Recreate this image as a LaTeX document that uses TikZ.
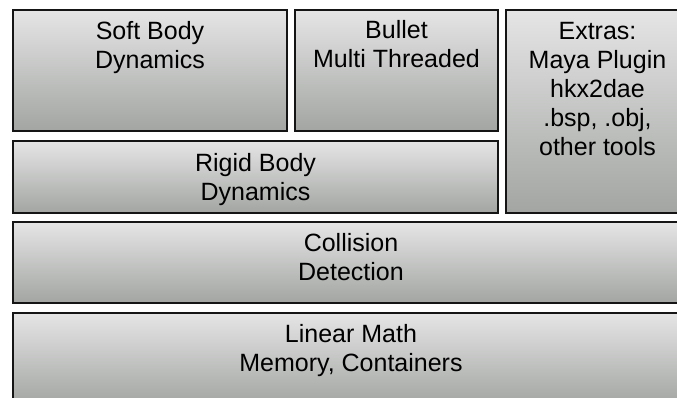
\documentclass[tikz,border=0pt]{standalone}
\usepackage{fontspec}
\setmainfont{Liberation Sans}
\definecolor{gtop}{HTML}{E5E5E5}
\definecolor{gmid}{HTML}{CACBCA}
\definecolor{gbot}{HTML}{A2A5A2}
\definecolor{edge}{HTML}{151515}
\begin{document}
\begin{tikzpicture}[x=1pt,y=-1pt,
  layer/.style={draw=edge, line width=2pt, rectangle, inner sep=0pt,
    top color=gtop, middle color=gmid, bottom color=gbot},
  lbl/.style={anchor=north, align=center, inner sep=0pt, text=black,
    font=\fontsize{25}{29}\selectfont}]
\useasboundingbox (0,0) rectangle (677,398);
\fill[white] (0,0) rectangle (677,398);
\clip (0,0) rectangle (677,398);
% boxes
\node[layer, minimum width=274pt, minimum height=121pt] (soft) at (150,70.5) {};
\node[layer, minimum width=203pt, minimum height=121pt] (bullet) at (396.5,70.5) {};
\node[layer, minimum width=183pt, minimum height=203pt] (extras) at (597.5,111.5) {};
\node[layer, minimum width=485pt, minimum height=72pt] (rigid) at (255.5,177) {};
\node[layer, minimum width=676pt, minimum height=81pt] (collision) at (351,262.5) {};
\node[layer, minimum width=676pt, minimum height=92pt] (linear) at (351,359) {};
% labels
\node[lbl] (softT) at ([yshift=-10pt]soft.north) {\rule{0pt}{20pt}Soft Body\\Dynamics};
\node[lbl] (bulletT) at ([yshift=-9pt]bullet.north) {\rule{0pt}{20pt}Bullet\\Multi Threaded};
\node[lbl] (extrasT) at ([yshift=-10pt]extras.north) {\rule{0pt}{20pt}Extras:\\Maya Plugin\\hkx2dae\\.bsp, .obj,\\other tools};
\node[lbl] (rigidT) at ([yshift=-11pt]rigid.north) {\rule{0pt}{20pt}Rigid Body\\Dynamics};
\node[lbl] (collisionT) at ([yshift=-10pt]collision.north) {\rule{0pt}{20pt}Collision\\Detection};
\node[lbl] (linearT) at ([yshift=-10pt]linear.north) {\rule{0pt}{20pt}Linear Math\\Memory, Containers};
\end{tikzpicture}
\end{document}
